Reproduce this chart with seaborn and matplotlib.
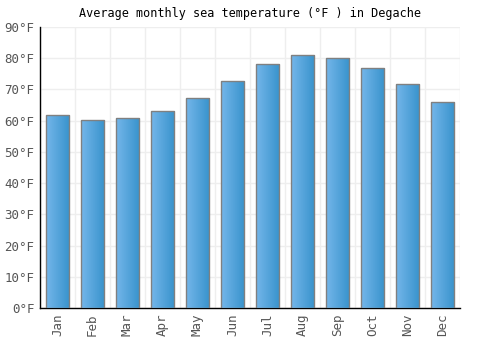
import numpy as np
import pandas as pd
import matplotlib
matplotlib.use("Agg")
import matplotlib.pyplot as plt
import seaborn as sns

months = ["Jan", "Feb", "Mar", "Apr", "May", "Jun", "Jul", "Aug", "Sep", "Oct", "Nov", "Dec"]
temps = [61.9, 60.3, 60.7, 63.2, 67.3, 72.7, 78.2, 81.1, 80.1, 76.9, 71.8, 66.1]
yticks = [0, 10, 20, 30, 40, 50, 60, 70, 80, 90]

sns.set_style("white")
plt.rcParams["font.family"] = ["DejaVu Sans Mono"]

df = pd.DataFrame({"month": months, "temp": temps})

fig = plt.figure(figsize=(5, 3.5), dpi=100)
ax = fig.add_axes([0.08, 0.12, 0.84, 0.803])

sns.barplot(data=df, x="month", y="temp", color="#4a9fd8", width=0.68,
            edgecolor="#808080", linewidth=1, ax=ax, zorder=3)

# gradient fill inside each bar
grad = np.linspace(0, 1, 64).reshape(1, -1)
cmap = matplotlib.colors.LinearSegmentedColormap.from_list("g", ["#74b6ea", "#3893cc"])
for p in ax.patches:
    x0, y0 = p.get_x(), p.get_y()
    w, h = p.get_width(), p.get_height()
    im = ax.imshow(grad, cmap=cmap, aspect="auto", extent=[x0, x0 + w, y0, y0 + h],
                   zorder=3.5, interpolation="bicubic")
    im.set_clip_path(p)
    p.set_facecolor("none")
    p.set_zorder(4)

ax.set_xlim(-0.5, len(months) - 0.5)
ax.set_ylim(0, 90)
ax.set_yticks(yticks)
ax.set_yticklabels([f"{v}°F" for v in yticks])
ax.set_xticks(range(len(months)))
ax.set_xticklabels(months, rotation=90)
ax.set_xticks(np.arange(-0.5, len(months), 1), minor=True)
ax.grid(True, which="major", axis="y", color="#eeeeee", linewidth=1, zorder=0)
ax.grid(True, which="minor", axis="x", color="#eeeeee", linewidth=1, zorder=0)
ax.tick_params(axis="both", which="both", length=0, labelsize=9, colors="#555555", pad=4)
ax.set_xlabel("")
ax.set_ylabel("")
for side in ["top", "right"]:
    ax.spines[side].set_visible(False)
for side in ["left", "bottom"]:
    ax.spines[side].set_color("black")
    ax.spines[side].set_linewidth(1)
ax.set_title("Average monthly sea temperature (°F ) in Degache", fontsize=8.5, pad=7, color="black")

fig.savefig("out.png", dpi=100)
